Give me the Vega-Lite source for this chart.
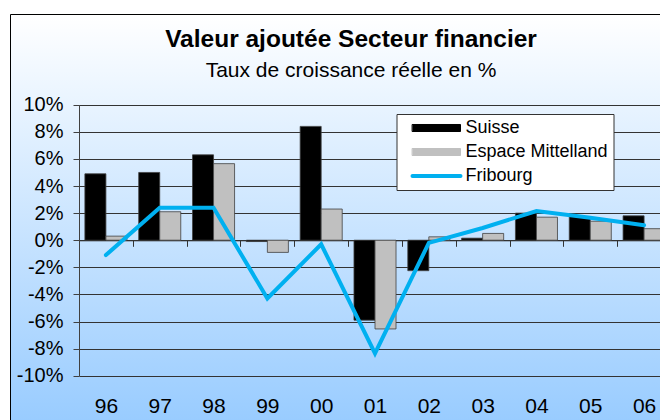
{
  "$schema": "https://vega.github.io/schema/vega-lite/v6.json",
  "width": 650,
  "height": 406,
  "autosize": {"type": "none"},
  "padding": {"left": 10, "top": 14, "right": 0, "bottom": 0},
  "background": "white",
  "title": {
    "text": "Valeur ajoutée Secteur financier",
    "subtitle": "Taux de croissance réelle en %",
    "font": "Liberation Sans",
    "fontSize": 24.5,
    "fontWeight": "bold",
    "color": "black",
    "subtitleFont": "Liberation Sans",
    "subtitleFontSize": 21,
    "subtitleColor": "black",
    "subtitlePadding": 8,
    "anchor": "middle",
    "offset": -68,
    "dx": 16
  },
  "data": {
    "values": [
      {"year": "96", "series": "Suisse", "value": 4.9},
      {"year": "97", "series": "Suisse", "value": 5.0},
      {"year": "98", "series": "Suisse", "value": 6.3},
      {"year": "99", "series": "Suisse", "value": -0.1},
      {"year": "00", "series": "Suisse", "value": 8.4},
      {"year": "01", "series": "Suisse", "value": -5.9},
      {"year": "02", "series": "Suisse", "value": -2.25},
      {"year": "03", "series": "Suisse", "value": 0.15},
      {"year": "04", "series": "Suisse", "value": 2.0},
      {"year": "05", "series": "Suisse", "value": 1.75},
      {"year": "06", "series": "Suisse", "value": 1.8},
      {"year": "96", "series": "Espace Mittelland", "value": 0.3},
      {"year": "97", "series": "Espace Mittelland", "value": 2.1},
      {"year": "98", "series": "Espace Mittelland", "value": 5.65},
      {"year": "99", "series": "Espace Mittelland", "value": -0.9},
      {"year": "00", "series": "Espace Mittelland", "value": 2.3},
      {"year": "01", "series": "Espace Mittelland", "value": -6.55},
      {"year": "02", "series": "Espace Mittelland", "value": 0.25},
      {"year": "03", "series": "Espace Mittelland", "value": 0.5},
      {"year": "04", "series": "Espace Mittelland", "value": 1.7},
      {"year": "05", "series": "Espace Mittelland", "value": 1.4},
      {"year": "06", "series": "Espace Mittelland", "value": 0.85},
      {"year": "96", "series": "Fribourg", "value": -1.1},
      {"year": "97", "series": "Fribourg", "value": 2.4},
      {"year": "98", "series": "Fribourg", "value": 2.4},
      {"year": "99", "series": "Fribourg", "value": -4.3},
      {"year": "00", "series": "Fribourg", "value": -0.3},
      {"year": "01", "series": "Fribourg", "value": -8.35},
      {"year": "02", "series": "Fribourg", "value": -0.2},
      {"year": "03", "series": "Fribourg", "value": 0.9},
      {"year": "04", "series": "Fribourg", "value": 2.15},
      {"year": "05", "series": "Fribourg", "value": 1.65},
      {"year": "06", "series": "Fribourg", "value": 1.1}
    ]
  },
  "encoding": {
    "x": {
      "field": "year",
      "type": "nominal",
      "sort": null,
      "scale": {
        "domain": ["96", "97", "98", "99", "00", "01", "02", "03", "04", "05", "06"],
        "range": [69, 661],
        "paddingInner": 0,
        "paddingOuter": 0
      },
      "axis": {
        "title": null,
        "orient": "bottom",
        "offset": -179.7,
        "labelAngle": 0,
        "labelFont": "Liberation Sans",
        "labelFontSize": 21,
        "labelColor": "black",
        "labelPadding": 149,
        "tickBand": "extent",
        "tickSize": 6,
        "tickColor": "#333333",
        "domainColor": "#333333",
        "grid": false
      }
    },
    "y": {
      "field": "value",
      "type": "quantitative",
      "scale": {"domain": [-10, 10], "range": [361.7, 90.7], "nice": false, "zero": false},
      "axis": {
        "title": null,
        "offset": -69,
        "values": [-10, -8, -6, -4, -2, 0, 2, 4, 6, 8, 10],
        "labelExpr": "datum.value + '%'",
        "labelFont": "Liberation Sans",
        "labelFontSize": 20,
        "labelColor": "black",
        "labelPadding": 10,
        "tickSize": 6,
        "tickColor": "#404040",
        "domainColor": "#404040",
        "grid": true,
        "gridColor": "#333333",
        "gridWidth": 1
      }
    },
    "color": {
      "field": "series",
      "type": "nominal",
      "scale": {
        "domain": ["Suisse", "Espace Mittelland", "Fribourg"],
        "range": ["#000000", "#C0C0C0", "#00B0F0"]
      },
      "legend": {
        "title": null,
        "orient": "none",
        "legendX": 386.5,
        "legendY": 100,
        "padding": 5,
        "fillColor": "white",
        "strokeColor": "#333333",
        "cornerRadius": 0,
        "labelFont": "Liberation Sans",
        "labelFontSize": 18,
        "labelColor": "black",
        "labelOffset": 20,
        "symbolOffset": 26,
        "symbolSize": 2304,
        "rowPadding": 6,
        "encode": {
          "symbols": {
            "update": {
              "shape": {"signal": "datum.value === 'Fribourg' ? 'M-1,0H1' : 'M-1,-0.146H1V0.146H-1Z'"},
              "fill": {"signal": "datum.value === 'Fribourg' ? 'transparent' : scale('color', datum.value)"},
              "stroke": {"signal": "datum.value === 'Fribourg' ? '#00B0F0' : '#333333'"},
              "strokeWidth": {"signal": "datum.value === 'Fribourg' ? 4 : 1"},
              "strokeCap": {"value": "round"},
              "opacity": {"value": 1}
            }
          }
        }
      }
    }
  },
  "layer": [
    {
      "transform": [{"filter": "datum.series !== 'Fribourg'"}],
      "mark": {"type": "bar", "stroke": "#404040", "strokeWidth": 0.8},
      "encoding": {
        "xOffset": {
          "field": "series",
          "type": "nominal",
          "scale": {"domain": ["Suisse", "Espace Mittelland"], "paddingInner": 0, "paddingOuter": 0.28}
        }
      }
    },
    {
      "transform": [{"filter": "datum.series === 'Fribourg'"}],
      "mark": {"type": "line", "strokeWidth": 4, "strokeCap": "round", "strokeJoin": "miter"}
    }
  ],
  "config": {
    "view": {
      "fill": {
        "gradient": "linear",
        "x1": 0, "y1": 0, "x2": 0, "y2": 1,
        "stops": [
          {"offset": 0, "color": "#FFFFFF"},
          {"offset": 1, "color": "#99CCFF"}
        ]
      },
      "stroke": "#000000",
      "strokeWidth": 1
    }
  }
}
